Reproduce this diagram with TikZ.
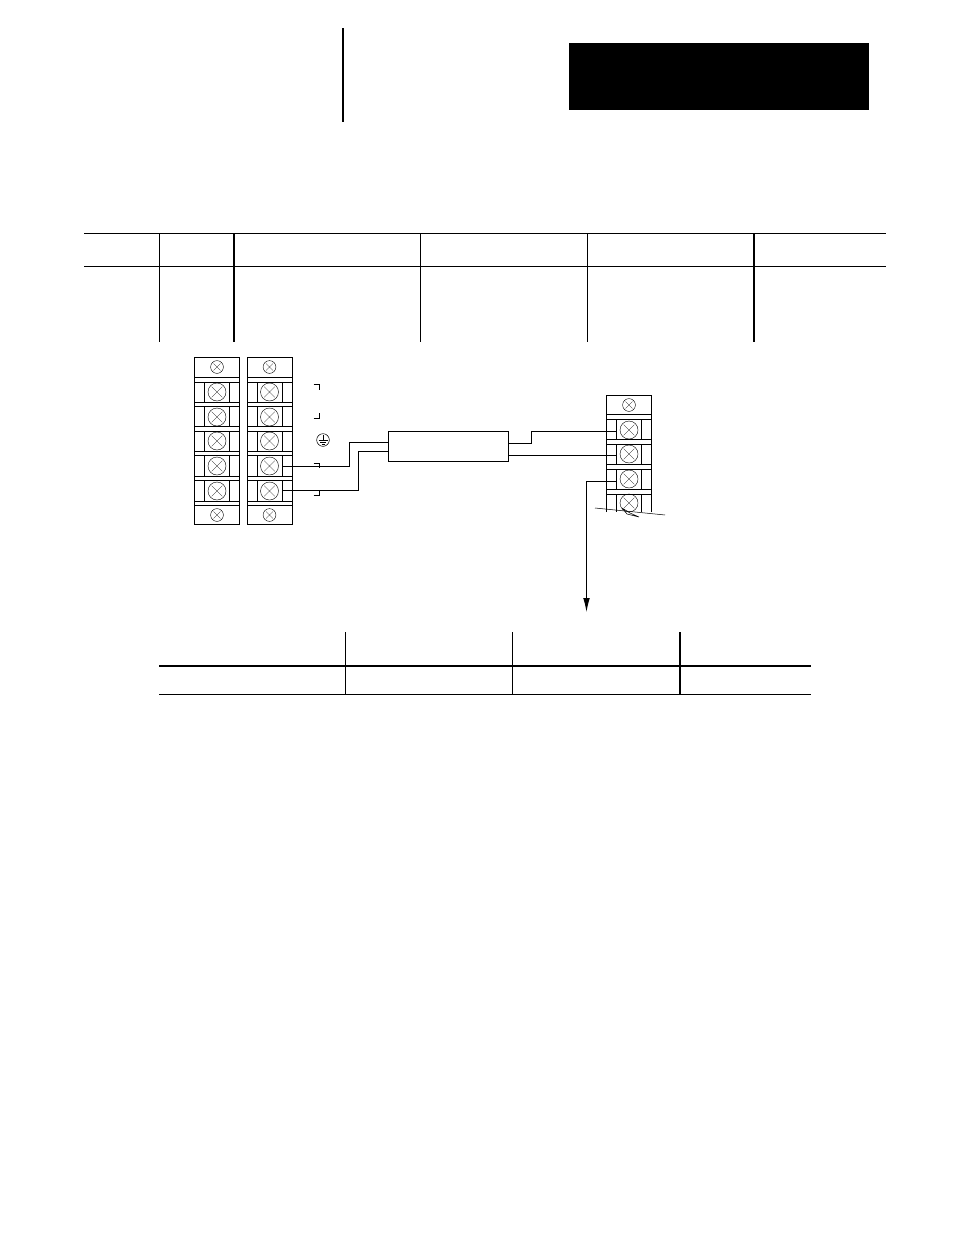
\documentclass[tikz,border=0pt]{standalone}
\usetikzlibrary{arrows.meta}
\tikzset{
    screwa/.style={circle,draw,line width=0.3pt,inner sep=0pt,minimum size=9.6pt,
        path picture={\draw[line width=0.2pt,rotate=15] (-2.6pt,-2.6pt) -- (2.6pt,2.6pt) (-2.6pt,2.6pt) -- (2.6pt,-2.6pt);}},
    screwb/.style={screwa,minimum size=13.5pt,
        path picture={\draw[line width=0.2pt,rotate=15] (-4pt,-4pt) -- (4pt,4pt) (-4pt,4pt) -- (4pt,-4pt);}},
    wire/.style={line width=0.7pt},
    strip/.style={line width=0.7pt},
    rulea/.style={line width=0.75pt},
    ruleb/.style={line width=1.5pt}
}
\begin{document}
\begin{tikzpicture}[x=0.75pt,y=-0.75pt]
    \useasboundingbox (0,0) rectangle (954,1235);

    \fill[black] (569,43) rectangle (869,110);
    \draw[ruleb] (343,28) -- (343,122);

    % upper table
    \draw[rulea] (84,233.5) -- (886,233.5);
    \draw[rulea] (84,266) -- (886,266);
    \draw[rulea] (159,233.5) -- (159,342);
    \draw[ruleb] (234,233.5) -- (234,342);
    \draw[rulea] (420.5,233.5) -- (420.5,342);
    \draw[rulea] (587.5,233.5) -- (587.5,342);
    \draw[ruleb] (754,233.5) -- (754,342);

    % left strip
    \draw[strip] (194.5,357) rectangle (239.5,524);
    \draw[line width=0.5pt] (194.5,377) -- (239.5,377) (194.5,382) -- (239.5,382);
    \draw[line width=0.5pt] (194.5,402) -- (239.5,402) (194.5,406) -- (239.5,406);
    \draw[line width=0.5pt] (194.5,426.5) -- (239.5,426.5) (194.5,431) -- (239.5,431);
    \draw[line width=0.5pt] (194.5,451) -- (239.5,451) (194.5,455.5) -- (239.5,455.5);
    \draw[line width=0.5pt] (194.5,476) -- (239.5,476) (194.5,480.5) -- (239.5,480.5);
    \draw[line width=0.5pt] (194.5,501) -- (239.5,501) (194.5,505.5) -- (239.5,505.5);
    \draw[line width=0.5pt] (204.5,382) -- (204.5,402) (229.5,382) -- (229.5,402);
    \draw[line width=0.5pt] (204.5,406) -- (204.5,426.5) (229.5,406) -- (229.5,426.5);
    \draw[line width=0.5pt] (204.5,431) -- (204.5,451) (229.5,431) -- (229.5,451);
    \draw[line width=0.5pt] (204.5,455.5) -- (204.5,476) (229.5,455.5) -- (229.5,476);
    \draw[line width=0.5pt] (204.5,480.5) -- (204.5,501) (229.5,480.5) -- (229.5,501);
    \node[screwa] (la) at (217,367) {};
    \node[screwb] (lb) at (217,392) {};
    \node[screwb] (lc) at (217,417) {};
    \node[screwb] (ld) at (217,441) {};
    \node[screwb] (le) at (217,466) {};
    \node[screwb] (lf) at (217,491) {};
    \node[screwa] (lg) at (217,515) {};

    % middle strip
    \draw[strip] (247.5,357) rectangle (292.5,524);
    \draw[line width=0.5pt] (247.5,377) -- (292.5,377) (247.5,382) -- (292.5,382);
    \draw[line width=0.5pt] (247.5,402) -- (292.5,402) (247.5,406) -- (292.5,406);
    \draw[line width=0.5pt] (247.5,426.5) -- (292.5,426.5) (247.5,431) -- (292.5,431);
    \draw[line width=0.5pt] (247.5,451) -- (292.5,451) (247.5,455.5) -- (292.5,455.5);
    \draw[line width=0.5pt] (247.5,476) -- (292.5,476) (247.5,480.5) -- (292.5,480.5);
    \draw[line width=0.5pt] (247.5,501) -- (292.5,501) (247.5,505.5) -- (292.5,505.5);
    \draw[line width=0.5pt] (257.5,382) -- (257.5,402) (282.5,382) -- (282.5,402);
    \draw[line width=0.5pt] (257.5,406) -- (257.5,426.5) (282.5,406) -- (282.5,426.5);
    \draw[line width=0.5pt] (257.5,431) -- (257.5,451) (282.5,431) -- (282.5,451);
    \draw[line width=0.5pt] (257.5,455.5) -- (257.5,476) (282.5,455.5) -- (282.5,476);
    \draw[line width=0.5pt] (257.5,480.5) -- (257.5,501) (282.5,480.5) -- (282.5,501);
    \node[screwa] (ma) at (269.5,367) {};
    \node[screwb] (mb) at (269.5,392) {};
    \node[screwb] (mc) at (269.5,417) {};
    \node[screwb] (md) at (269.5,441) {};
    \node[screwb] (me) at (269.5,466) {};
    \node[screwb] (mf) at (269.5,491) {};
    \node[screwa] (mg) at (269.5,515) {};

    % brackets
    \draw[line width=0.5pt] (313.5,384.5) -- (319,384.5) -- (319,389.5);
    \draw[line width=0.5pt] (313.5,418.5) -- (319,418.5) -- (319,413);
    \draw[line width=0.5pt] (313.5,463) -- (319,463) -- (319,468);
    \draw[line width=0.5pt] (313.5,495.5) -- (319,495.5) -- (319,490);

    % ground
    \node[circle,draw,line width=0.4pt,inner sep=0pt,minimum size=9.5pt] (gnd) at (323,440) {};
    \draw[line width=0.4pt] (323,435) -- (323,440);
    \draw[line width=0.4pt] (318.5,440) -- (327.5,440);
    \draw[line width=0.4pt] (320,442) -- (326,442);
    \draw[line width=0.4pt] (321.5,444) -- (324.5,444);

    % box and wires
    \node[draw,line width=0.6pt,inner sep=0pt,minimum width=90pt,minimum height=22.5pt] (conv) at (448,446) {};
    \coordinate (ca) at (388,442.5);
    \coordinate (cb) at (388,451.5);
    \coordinate (cc) at (508,443.5);
    \coordinate (cd) at (508,455.5);
    \coordinate (me1) at (282.5,466.5);
    \coordinate (mf1) at (282.5,490.5);
    \coordinate (rb1) at (616.5,431.5);
    \coordinate (rc1) at (616.5,455.5);
    \coordinate (rd1) at (616.5,481.5);
    \coordinate (tip) at (586.5,612);
    \draw[wire] (me1) -- (349.5,466.5) -- (349.5,442.5) -- (ca);
    \draw[wire] (mf1) -- (358.5,490.5) -- (358.5,451.5) -- (cb);
    \draw[wire] (cc) -- (531.5,443.5) -- (531.5,431.5) -- (rb1);
    \draw[wire] (cd) -- (rc1);
    \draw[wire,-{Latex[length=10.5pt,width=5pt]}] (rd1) -- (586.5,481.5) -- (tip);

    % right strip
    \draw[strip] (606.5,512) -- (606.5,395.5) -- (651.5,395.5) -- (651.5,512);
    \draw[line width=0.5pt] (606.5,414.5) -- (651.5,414.5) (606.5,419.5) -- (651.5,419.5);
    \draw[line width=0.5pt] (606.5,439) -- (651.5,439) (606.5,444) -- (651.5,444);
    \draw[line width=0.5pt] (606.5,464) -- (651.5,464) (606.5,469) -- (651.5,469);
    \draw[line width=0.5pt] (606.5,489.5) -- (651.5,489.5) (606.5,494) -- (651.5,494);
    \draw[line width=0.5pt] (616.5,419.5) -- (616.5,439) (641.5,419.5) -- (641.5,439);
    \draw[line width=0.5pt] (616.5,444) -- (616.5,464) (641.5,444) -- (641.5,464);
    \draw[line width=0.5pt] (616.5,469) -- (616.5,489.5) (641.5,469) -- (641.5,489.5);
    \draw[line width=0.5pt] (616.5,494) -- (616.5,512) (641.5,494) -- (641.5,512);
    \node[screwa] (ra) at (629,405) {};
    \node[screwb] (rb) at (629,430) {};
    \node[screwb] (rc) at (629,454) {};
    \node[screwb] (rd) at (629,479) {};
    \node[screwb] (re) at (629,503) {};
    \draw[line width=0.4pt] (595,508) -- (665,515);
    \draw[line width=0.4pt] (622,508) -- (630,513) -- (639,517) -- (627,514) -- (622,508);

    % lower table
    \draw[rulea] (345.5,632) -- (345.5,694);
    \draw[rulea] (512.5,632) -- (512.5,694);
    \draw[ruleb] (680,632) -- (680,694);
    \draw[ruleb] (159,665.5) -- (811,665.5);
    \draw[rulea] (159,694) -- (811,694);
\end{tikzpicture}
\end{document}
